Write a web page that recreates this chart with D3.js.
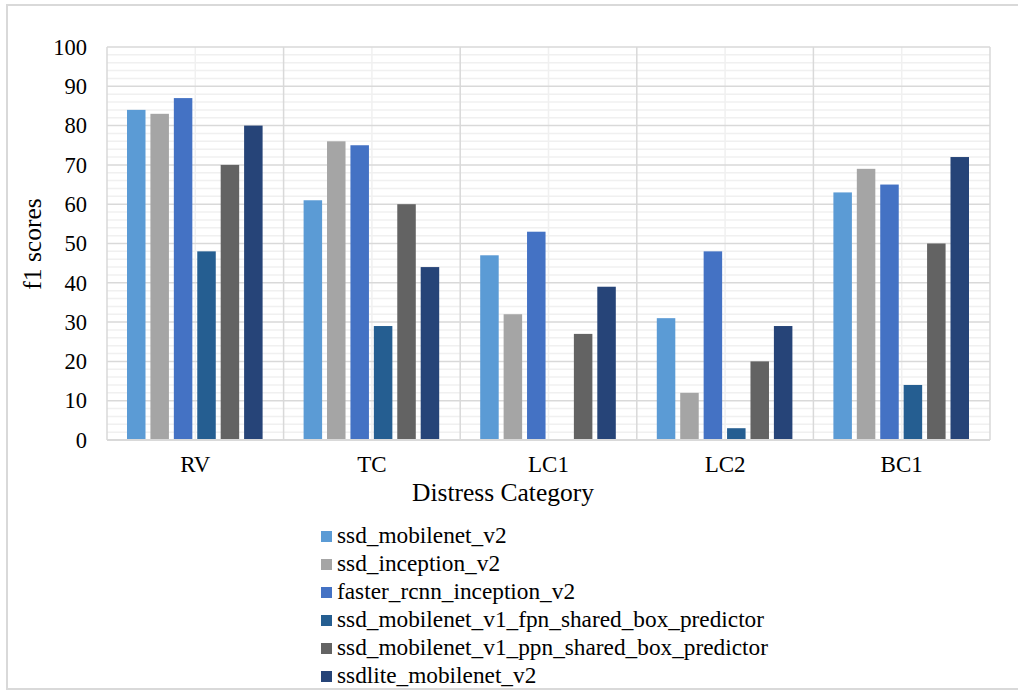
<!DOCTYPE html>
<html><head><meta charset="utf-8">
<script src="https://cdn.jsdelivr.net/npm/d3@7"></script>
<style>body{margin:0;background:#fff}svg{display:block}</style>
</head><body><svg id="c" width="1018" height="690"></svg>
<script>
const categories = ["RV","TC","LC1","LC2","BC1"];
const seriesNames = ["ssd_mobilenet_v2","ssd_inception_v2","faster_rcnn_inception_v2","ssd_mobilenet_v1_fpn_shared_box_predictor","ssd_mobilenet_v1_ppn_shared_box_predictor","ssdlite_mobilenet_v2"];
const ssd_mobilenet_v2 = [84,61,47,31,63];
const ssd_inception_v2 = [83,76,32,12,69];
const faster_rcnn_inception_v2 = [87,75,53,48,65];
const ssd_fpn = [48,29,0,3,14];
const ssd_ppn = [70,60,27,20,50];
const ssdlite_mobilenet_v2 = [80,44,39,29,72];
const seriesValues = [ssd_mobilenet_v2,ssd_inception_v2,faster_rcnn_inception_v2,ssd_fpn,ssd_ppn,ssdlite_mobilenet_v2];
const colors = ["#5B9BD5","#A5A5A5","#4472C4","#255E91","#636363","#264478"];
const yTicks = [0,10,20,30,40,50,60,70,80,90,100];
const FONT = "'Liberation Serif', 'Times New Roman', Times, serif";

const svg = d3.select("#c");
svg.append("rect").attr("x",7).attr("y",5).attr("width",1015).attr("height",684)
  .attr("fill","#fff").attr("stroke","#d9d9d9").attr("stroke-width",2);

const L=107,R=990,T=47,B=440;
const x = d3.scaleBand().domain(categories).range([L,R]).paddingInner(0).paddingOuter(0);
const y = d3.scaleLinear().domain([0,100]).range([B,T]);
const g = svg.append("g");
g.selectAll(".mn").data(d3.range(0,101,2).filter(v=>v%10!==0)).join("line")
  .attr("x1",L).attr("x2",R).attr("y1",d=>y(d)).attr("y2",d=>y(d)).attr("stroke","#f0f0f0").attr("stroke-width",1.5);
g.selectAll(".mv").data(categories).join("line")
  .attr("x1",d=>x(d)+x.bandwidth()/2).attr("x2",d=>x(d)+x.bandwidth()/2).attr("y1",T).attr("y2",B)
  .attr("stroke","#f0f0f0").attr("stroke-width",1.5);
g.selectAll(".mj").data(yTicks).join("line")
  .attr("x1",L).attr("x2",R).attr("y1",d=>y(d)).attr("y2",d=>y(d)).attr("stroke","#d9d9d9").attr("stroke-width",1.5);
const bounds = categories.map(c=>x(c)).concat([R]);
g.selectAll(".mjv").data(bounds).join("line")
  .attr("x1",d=>d).attr("x2",d=>d).attr("y1",T).attr("y2",B).attr("stroke","#d9d9d9").attr("stroke-width",1.5);

const inner = d3.scaleBand().domain(d3.range(seriesNames.length)).range([20, x.bandwidth()-21]).paddingInner(0.21).paddingOuter(0);
seriesValues.forEach((vals,si)=>{
  g.selectAll(".b"+si).data(vals).join("rect")
    .attr("x",(d,i)=>x(categories[i])+inner(si)).attr("width",inner.bandwidth())
    .attr("y",d=>y(d)).attr("height",d=>B-y(d)).attr("fill",colors[si]);
});
g.append("line").attr("x1",L).attr("x2",R).attr("y1",B).attr("y2",B).attr("stroke","#d9d9d9").attr("stroke-width",2);

const ya = svg.append("g").attr("transform",`translate(${L},0)`).call(d3.axisLeft(y).tickValues(yTicks).tickSize(0).tickPadding(20));
ya.select(".domain").remove();
ya.attr("font-family",FONT).attr("font-size",22.5);
ya.selectAll("text").attr("fill","#000");
const xa = svg.append("g").attr("transform",`translate(0,${B})`).call(d3.axisBottom(x).tickSize(0).tickPadding(16));
xa.select(".domain").remove();
xa.attr("font-family",FONT).attr("font-size",23);
xa.selectAll("text").attr("fill","#000");

svg.append("text").attr("x",503).attr("y",501).attr("text-anchor","middle").attr("font-family",FONT).attr("font-size",25.5).text("Distress Category");
svg.append("text").attr("transform","translate(41,244) rotate(-90)").attr("text-anchor","middle").attr("font-family",FONT).attr("font-size",25.5).text("f1 scores");

const lg = svg.append("g").attr("font-family",FONT).attr("font-size",23.3);
seriesNames.forEach((n,i)=>{
  lg.append("rect").attr("x",321).attr("y",531+i*28).attr("width",11).attr("height",11).attr("fill",colors[i]);
  lg.append("text").attr("x",337).attr("y",543+i*28).text(n);
});
</script></body></html>
